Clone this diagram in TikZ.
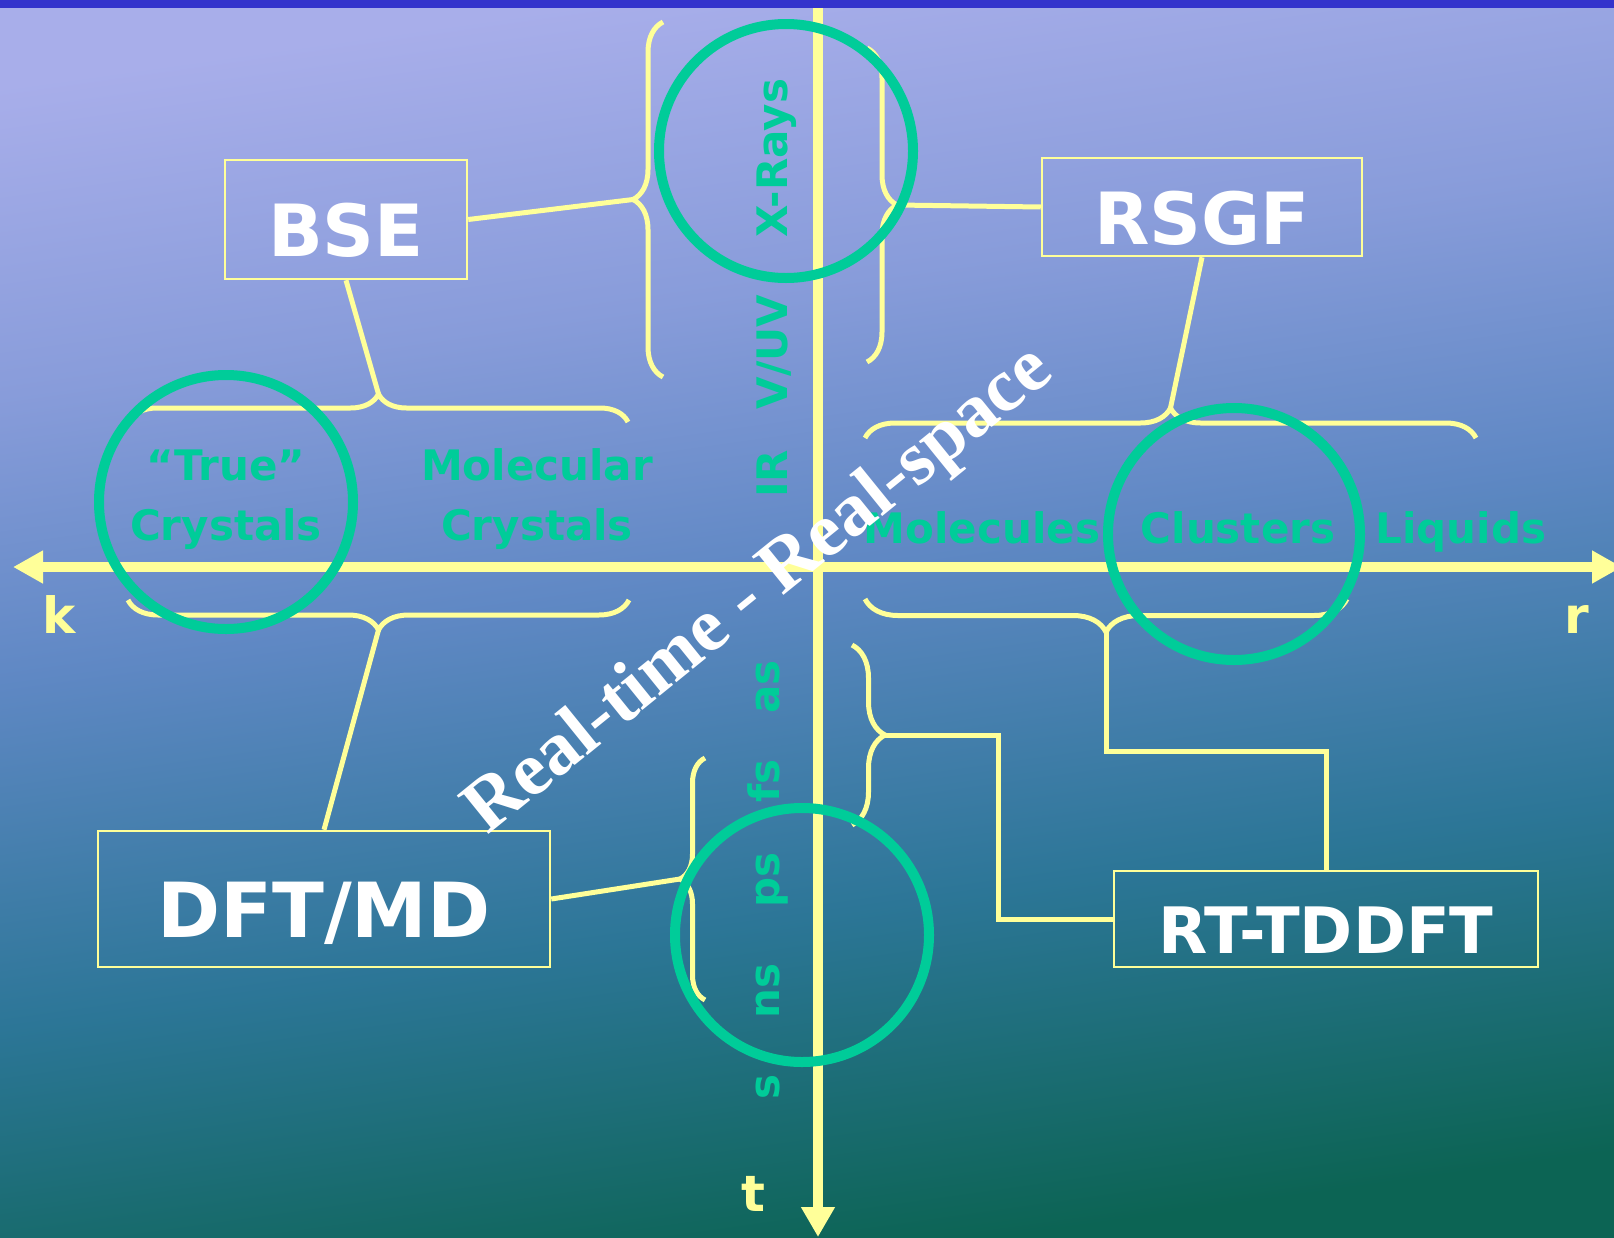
\documentclass[tikz,border=0pt]{standalone}
\usepackage{fontspec}
\usetikzlibrary{arrows.meta,decorations.pathreplacing}
\newfontfamily\sanslabel{DejaVu Sans}
\newfontfamily\seriflabel{Liberation Serif}
\definecolor{paleYellow}{HTML}{FFFF99}
\definecolor{mintGreen}{HTML}{00CC99}
\definecolor{bandBlue}{HTML}{3333CC}
\definecolor{skyTop}{HTML}{A8AEEA}
\definecolor{skyHigh}{HTML}{889CDA}
\definecolor{skyMid}{HTML}{5F88C4}
\definecolor{seaMid}{HTML}{2C7697}
\definecolor{seaBottom}{HTML}{0C6454}
\pgfdeclareverticalshading{skyfade}{100bp}{color(0bp)=(seaBottom); color(25bp)=(seaBottom); color(38.5bp)=(seaMid); color(52bp)=(skyMid); color(63bp)=(skyHigh); color(75bp)=(skyTop); color(100bp)=(skyTop)}

\begin{document}
\begin{tikzpicture}[x=1pt,y=-1pt,
  method/.style={draw=paleYellow,line width=2.5pt,text=white,inner sep=0pt,text depth=0pt},
  regime/.style={text=mintGreen,font=\sanslabel\bfseries\fontsize{42}{46}\selectfont,anchor=base},
  spectrum/.style={regime,rotate=90},
  axislbl/.style={text=paleYellow,font=\sanslabel\bfseries\fontsize{50}{54}\selectfont,anchor=base},
  axisline/.style={paleYellow,line width=10pt},
  link/.style={paleYellow,line width=5pt},
  curly/.style={link,decorate,decoration={brace,amplitude=#1}},
  ring/.style={mintGreen,line width=10pt}]
  \useasboundingbox (0,0) rectangle (1614,1237);
  \shade[shading=skyfade,shading angle=8] (0,0) rectangle (1614,1237);
  \fill[bandBlue] (0,0) rectangle (1614,8);

  \coordinate (kEnd) at (13,567);
  \coordinate (rEnd) at (1622,567);
  \coordinate (tStart) at (818,8);
  \coordinate (tEnd) at (818,1237);
  \draw[axisline,{Triangle[length=30pt,width=31pt]}-{Triangle[length=30pt,width=31pt]}] (kEnd) -- (rEnd);
  \draw[axisline,-{Triangle[length=30pt,width=32pt]}] (tStart) -- (tEnd);

  \draw[curly=30pt] (663,377) -- (663,22);
  \draw[curly=30pt] (867,48) -- (867,362);
  \draw[curly=28pt] (129,422) -- (628,422);
  \draw[curly=30pt] (629,600) -- (128,600);
  \draw[curly=30pt] (865,438) -- (1476,438);
  \draw[curly=33pt] (1347,599) -- (865,599);
  \draw[curly=25pt] (705,1000) -- (705,758);
  \draw[curly=33pt] (852,645) -- (852,825);
  \coordinate (uvTip) at (633,199.5);
  \coordinate (xrTip) at (897,205);
  \coordinate (crysTopTip) at (378.5,394);
  \coordinate (crysBotTip) at (378.5,630);
  \coordinate (molTopTip) at (1170.5,408);
  \coordinate (molBotTip) at (1106,632);
  \coordinate (nsTip) at (680,879);
  \coordinate (asTip) at (885,735);
  \coordinate (elbowA) at (998,800);
  \coordinate (elbowB) at (1200,751);

  \node[method,minimum width=242pt,minimum height=119pt,text height=74.5pt,font=\sanslabel\bfseries\fontsize{72}{76}\selectfont] (bse) at (346,219.5) {BSE};
  \node[method,minimum width=320pt,minimum height=98pt,text height=74.5pt,font=\sanslabel\bfseries\fontsize{72}{76}\selectfont] (rsgf) at (1202,207) {RSGF};
  \node[method,minimum width=452pt,minimum height=136pt,text height=77.5pt,font=\sanslabel\bfseries\fontsize{76}{80}\selectfont] (dft) at (324,899) {DFT/MD};
  \node[method,minimum width=424pt,minimum height=96pt,text height=68.5pt,font=\sanslabel\bfseries\fontsize{64}{68}\selectfont] (rt) at (1326,919) {RT-TDDFT};

  \draw[link] (bse.east) -- (uvTip);
  \draw[link] (bse.south) -- (crysTopTip);
  \draw[link] (rsgf.west) -- (xrTip);
  \draw[link] (rsgf.south) -- (molTopTip);
  \draw[link] (crysBotTip) -- (dft.north);
  \draw[link] (dft.east) -- (nsTip);
  \draw[link] (asTip) -| (elbowA) |- (rt.west);
  \draw[link] (molBotTip) |- (elbowB) -| (rt.north);

  \node[regime] (trueLbl) at (226,480) {“True”};
  \node[regime] (trueCrys) at (226,540) {Crystals};
  \node[regime] (molLbl) at (537,480) {Molecular};
  \node[regime] (molCrys) at (537,540) {Crystals};
  \node[regime] (moleculesLbl) at (982,543) {Molecules};
  \node[regime] (clustersLbl) at (1238,543) {Clusters};
  \node[regime] (liquidsLbl) at (1461,543) {Liquids};

  \node[spectrum] (xrayLbl) at (787,158) {X-Rays};
  \node[spectrum] (uvLbl) at (787,352) {V/UV};
  \node[spectrum] (irLbl) at (787,474) {IR};
  \node[spectrum] (asLbl) at (779,687) {as};
  \node[spectrum] (fsLbl) at (779,781) {fs};
  \node[spectrum] (psLbl) at (779,880) {ps};
  \node[spectrum] (nsLbl) at (779,991) {ns};
  \node[spectrum] (sLbl) at (779,1087) {s};

  \node[axislbl] (kLbl) at (59,633) {k};
  \node[axislbl] (rLbl) at (1577,633) {r};
  \node[axislbl] (tLbl) at (753,1211) {t};

  \draw[ring] (786,151) circle[radius=127pt];
  \draw[ring] (226,502) circle[radius=127pt];
  \draw[ring] (1234,534) circle[radius=126pt];
  \draw[ring] (802,935) circle[radius=127pt];

  \node[rotate=39,text=white,font=\seriflabel\bfseries\fontsize{76}{80}\selectfont] (slogan) at (760,592) {Real-time - Real-space};
\end{tikzpicture}
\end{document}
